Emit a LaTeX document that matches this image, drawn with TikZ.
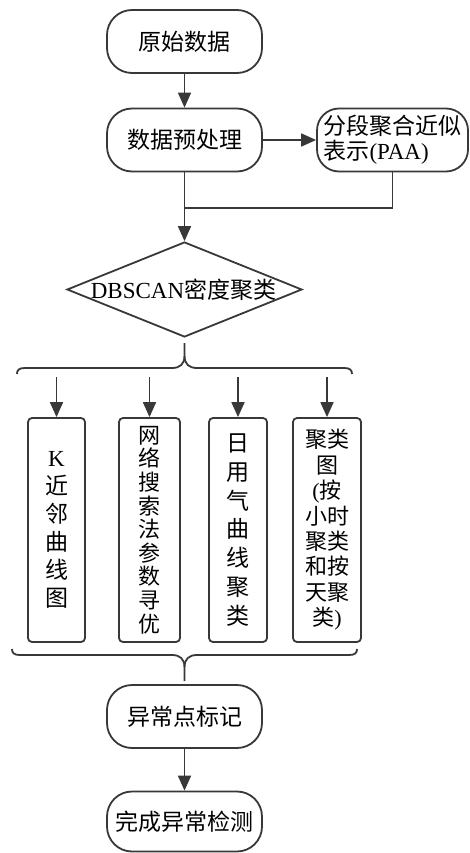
\documentclass[tikz,border=0pt]{standalone}
\usepackage{fontspec}
\setmainfont{Liberation Serif}
\newfontfamily\cjk{Noto Sans CJK SC}
\usetikzlibrary{arrows.meta,shapes.geometric}
\begin{document}
\begin{tikzpicture}[x=1pt,y=-1pt,
  ln/.style={draw=black!78, line width=1.8pt},
  rbox/.style={ln, rectangle, rounded corners=25pt, minimum width=155pt, minimum height=63pt, inner sep=0pt,
    font=\cjk\fontsize{23}{28}\selectfont},
  vbox/.style={ln, rectangle, rounded corners=4pt, minimum height=224pt, inner sep=0pt, align=center,
    font=\cjk\fontsize{23}{28}\selectfont},
  arr/.style={ln, -{Triangle[length=15pt,width=13pt]}}]
\useasboundingbox (0,0) rectangle (469,853);

\node[rbox] (raw) at (184.5,41.5) {原始数据};
\node[rbox] (pre) at (184.5,140) {数据预处理};
\node[rbox, minimum width=151pt, rounded corners=22pt, align=left, font=\cjk\fontsize{23}{25}\selectfont] (paa) at (392.5,140) {分段聚合近似\\表示{\rmfamily(PAA)}};

\node[ln, diamond, minimum width=235pt, minimum height=95pt, inner sep=0pt] (dia) at (184.5,289.5) {};
\node[font=\fontsize{23}{28}\selectfont, inner sep=0pt] (diat) at (183.5,290) {DBSCAN{\cjk 密度聚类}};

\coordinate (m) at (184.5,208);
\draw[arr] (raw) -- (pre);
\draw[arr] (pre) -- (paa);
\draw[arr] (pre) -- (dia);
\draw[ln] (paa.south) |- (m);

% upper brace
\draw[ln] (17,374) .. controls (17,370) and (19,368) .. (25,368) -- (172,368) .. controls (180,368) and (184.5,364) .. (184.5,356) -- (184.5,343);
\draw[ln] (184.5,356) .. controls (184.5,364) and (189,368) .. (197,368) -- (344,368) .. controls (350,368) and (352,370) .. (352,374);

\node[vbox, minimum width=57pt] (b1) at (56.5,530) {{\rmfamily K}\\近\\邻\\曲\\线\\图};
\node[vbox, minimum width=61pt, font=\cjk\fontsize{22}{23.6}\selectfont] (b2) at (149.5,530) {网\\络\\搜\\索\\法\\参\\数\\寻\\优};
\node[vbox, minimum width=58pt, font=\cjk\fontsize{23}{28.8}\selectfont] (b3) at (238,530) {日\\用\\气\\曲\\线\\聚\\类};
\node[vbox, minimum width=68pt, font=\cjk\fontsize{22}{25.4}\selectfont] (b4) at (327,530) {聚类\\图\\{\rmfamily(}按\\小时\\聚类\\和按\\天聚\\类{\rmfamily)}};

\coordinate (a1) at (56.5,377);
\coordinate (a2) at (149.5,377);
\coordinate (a3) at (238,377);
\coordinate (a4) at (327,377);
\draw[arr] (a1) -- (b1);
\draw[arr] (a2) -- (b2);
\draw[arr] (a3) -- (b3);
\draw[arr] (a4) -- (b4);

% lower brace
\draw[ln] (12,649) .. controls (12,653) and (14,655) .. (20,655) -- (172,655) .. controls (180,655) and (184.5,659) .. (184.5,667) -- (184.5,681);
\draw[ln] (184.5,667) .. controls (184.5,659) and (189,655) .. (197,655) -- (349,655) .. controls (355,655) and (357,653) .. (357,649);

\node[rbox] (mark) at (184.5,716.5) {异常点标记};
\node[rbox, minimum height=60pt] (done) at (184.5,821.5) {完成异常检测};
\draw[arr] (mark) -- (done);
\end{tikzpicture}
\end{document}
